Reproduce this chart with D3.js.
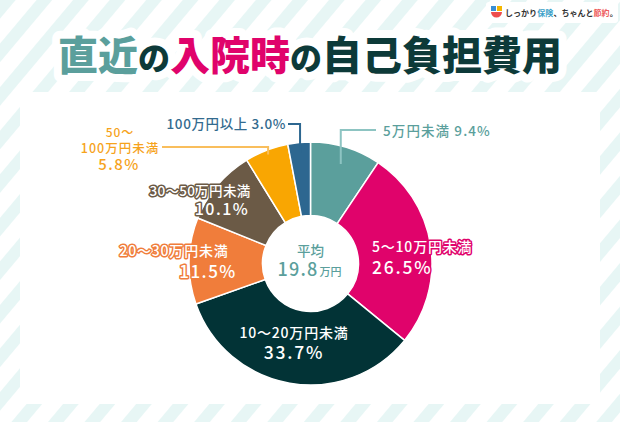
<!DOCTYPE html>
<html><head><meta charset="utf-8">
<script src="https://cdn.jsdelivr.net/npm/d3@7/dist/d3.min.js"></script>
<style>
html,body{margin:0;padding:0;background:#fff;}
svg{display:block;}
text{font-family:"Noto Sans CJK JP","Noto Sans",sans-serif;}
</style></head>
<body>
<svg id="c" width="620" height="422"></svg>
<script>
const categories = ["5万円未満","5〜10万円未満","10〜20万円未満","20〜30万円未満","30〜50万円未満","50〜100万円未満","100万円以上"];
const values = [9.4, 26.5, 33.7, 11.5, 10.1, 5.8, 3.0];
const percentLabels = ["9.4%","26.5%","33.7%","11.5%","10.1%","5.8%","3.0%"];
const colors = ["#5b9f9c","#e0036b","#023336","#f07d3b","#6b5a46","#f9a602","#2d6790"];
const averageLabel = ["平均","19.8","万円"];

const svg = d3.select("#c");
const W = 620, H = 422;

// background stripes
const defs = svg.append("defs");
const pat = defs.append("pattern").attr("id","stripes").attr("patternUnits","userSpaceOnUse")
  .attr("width",28).attr("height",28).attr("patternTransform","rotate(40)");
pat.append("rect").attr("width",28).attr("height",28).attr("fill","#ffffff");
pat.append("rect").attr("width",12).attr("height",28).attr("fill","#e7f6f5");
svg.append("rect").attr("width",W).attr("height",H).attr("fill","url(#stripes)");

// white panel
svg.append("rect").attr("x",20).attr("y",92).attr("width",580).attr("height",312).attr("fill","#fff");

// logo
const logo = svg.append("g");
logo.append("rect").attr("x",486).attr("y",2).attr("width",132).attr("height",21).attr("rx",3).attr("fill","#fff");
logo.append("rect").attr("x",491).attr("y",6).attr("width",5).attr("height",5).attr("fill","#3a8fd6");
logo.append("rect").attr("x",497).attr("y",6).attr("width",5).attr("height",5).attr("fill","#f5b700");
logo.append("path").attr("d","M491,12 h11 a5.5,5.5 0 0 1 -11,0 z").attr("fill","#ee4d4d");
const logoParts = [["しっかり","#333"],["保険","#3aa0c8"],["、ちゃんと","#333"],["節約","#ee5a5a"],["。","#333"]];
let lx = 505;
logoParts.forEach(p=>{
  const t = logo.append("text").attr("x",lx).attr("y",16).attr("font-size",8).attr("font-weight",700)
    .attr("fill",p[1]).text(p[0]);
  lx += t.node().getComputedTextLength() + 0.2;
});

// title
const titleParts = [["直近","#5b9f9c",40],["の","#0d3a39",32],["入院時","#e0036b",40],["の","#0d3a39",32],["自己負担費用","#0d3a39",40]];
function drawTitle(stroke){
  const t = svg.append("text").attr("x",310).attr("y",70).attr("text-anchor","middle").attr("font-weight",900);
  if(stroke) t.attr("stroke","#fff").attr("stroke-width",16).attr("stroke-linejoin","round");
  titleParts.forEach(p=>{
    t.append("tspan").attr("font-size",p[2]).attr("fill",stroke?"#fff":p[1]).text(p[0]);
  });
}
drawTitle(true); drawTitle(false);

// pie
const cx = 310.5, cy = 263.5, R = 121.5, r0 = 48;
const pie = d3.pie().sort(null).value(d=>d).startAngle(0).endAngle(2*Math.PI);
const arcs = pie(values);
const arc = d3.arc().innerRadius(r0).outerRadius(R);
const g = svg.append("g").attr("transform",`translate(${cx},${cy})`);
g.selectAll("path").data(arcs).enter().append("path")
  .attr("d",arc).attr("fill",(d,i)=>colors[i]).attr("stroke","#fff").attr("stroke-width",1.5);

// helpers
function pt(i, rad){ const a=(arcs[i].startAngle+arcs[i].endAngle)/2; return [cx+rad*Math.sin(a), cy-rad*Math.cos(a)]; }
function leader(i, rad, y, x2, col){
  const p = pt(i,rad);
  svg.append("polyline").attr("points",`${p[0]},${p[1]} ${p[0]},${y} ${x2},${y}`)
    .attr("fill","none").attr("stroke",col).attr("stroke-width",2);
}
function label(lines, anchor, col, outline){
  lines.forEach(l=>{
    const t = svg.append("text").attr("x",l.x).attr("y",l.y).attr("text-anchor",anchor)
      .attr("font-size",l.s).attr("font-weight",500).attr("letter-spacing",l.ls||1).attr("fill",outline?"#fff":col).text(l.t);
    if(outline) t.attr("stroke",col).attr("stroke-width",3).attr("stroke-linejoin","round").attr("paint-order","stroke");
  });
}

// outside labels
leader(0,104,130,376,"#8dc4c2");
label([{t:categories[0]+"  "+percentLabels[0],x:383,y:136,s:13.5,ls:1.1}],"start","#5b9f9c",false);
leader(6,111,124,288,"#2d6790");
label([{t:categories[6]+" "+percentLabels[6],x:286,y:129,s:13.5,ls:0.6}],"end","#336b8f",false);
leader(5,117,147,162,"#f9be5c");
label([{t:"50〜",x:120,y:137,s:12},{t:"100万円未満",x:120,y:153,s:12.5,ls:1},{t:percentLabels[5],x:119,y:170,s:15,ls:1.5}],"middle","#f6a31c",false);

// inside labels
label([{t:"30〜50万円未満",x:200,y:196,s:13.5,ls:0.3},{t:percentLabels[4],x:222,y:215,s:16,ls:1.5}],"middle",colors[4],true);
label([{t:"20〜30万円未満",x:174,y:256,s:14,ls:0.8},{t:percentLabels[3],x:208,y:278,s:17,ls:1.5}],"middle",colors[3],true);
label([{t:"5〜10万円未満",x:372,y:252,s:14,ls:0.8},{t:percentLabels[1],x:372,y:274,s:17.5,ls:1.8}],"start",colors[1],true);
label([{t:"10〜20万円未満",x:294,y:338,s:14,ls:0.8},{t:percentLabels[2],x:294,y:359,s:17.5,ls:1.8}],"middle",colors[2],true);

// center
svg.append("text").attr("x",cx).attr("y",256).attr("text-anchor","middle").attr("font-size",13.5).attr("font-weight",500).attr("fill","#5b9f9c").text(averageLabel[0]);
const ct = svg.append("text").attr("x",cx-1).attr("y",276).attr("text-anchor","middle").attr("font-weight",500).attr("fill","#5b9f9c");
ct.append("tspan").attr("font-size",18).attr("letter-spacing",1.2).text(averageLabel[1]);
ct.append("tspan").attr("font-size",11).attr("dx",1).text(averageLabel[2]);
</script>
</body></html>
